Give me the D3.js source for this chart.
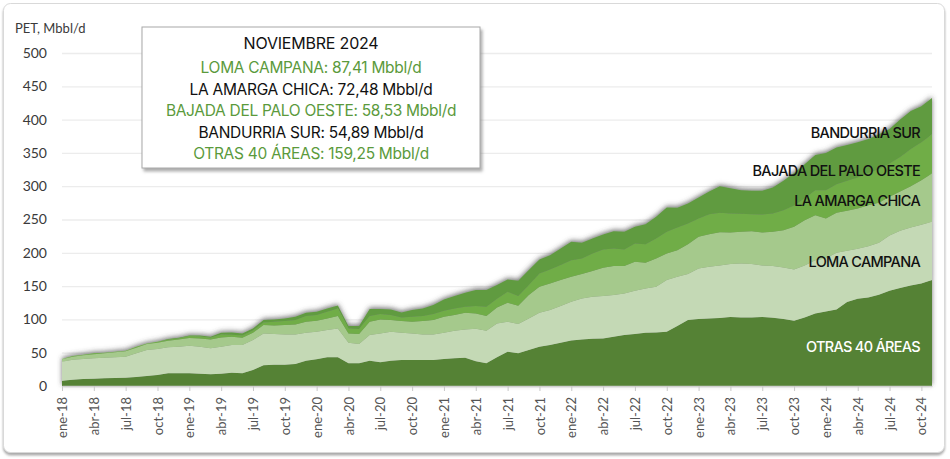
<!DOCTYPE html>
<html>
<head>
<meta charset="utf-8">
<script src="https://cdn.jsdelivr.net/npm/d3@7"></script>
<style>
body { margin: 0; background: #fff; }
svg { font-family: "Open Sans", sans-serif; }
</style>
</head>
<body>
<svg width="950" height="459"></svg>
<script>
// meses y años del eje x (ene-18 .. nov-24)
const meses = ["ene", "feb", "mar", "abr", "may", "jun", "jul", "ago", "sep", "oct", "nov", "dic"];
const anios = ["18", "19", "20", "21", "22", "23", "24"];
const yTicks = [0, 50, 100, 150, 200, 250, 300, 350, 400, 450, 500];

// produccion por area, Mbbl/d
const otras = [8, 9.5, 10.5, 11, 11.5, 12, 12.5, 13.5, 15, 16.5,
  19, 19, 19, 18.5, 17.5, 18.5, 20, 19, 24, 31,
  32, 32, 33, 38, 40, 43, 43, 34, 34, 38,
  35.5, 38, 39, 39, 39, 39, 40.5, 41.5, 42.5, 37,
  34, 43, 51.5, 49, 54, 59, 61.5, 65, 68.5, 70,
  71, 71.5, 74, 76.5, 78, 80, 80.5, 81.5, 90, 99,
  100.5, 101.5, 102, 103.5, 103, 103, 103.5, 102.5, 100.5, 98,
  103, 109, 112, 115, 126, 131, 133, 137, 143, 147,
  151, 154, 159.25];
const lomaCampana = [28.5, 30, 30, 30.5, 31, 31, 31.5, 35.5, 39, 39,
  39, 40, 41.5, 40.5, 39, 40.5, 41.5, 42.5, 45, 48,
  46, 45.5, 44.5, 42, 41.5, 41, 43.5, 31, 29, 38.5,
  43.5, 43.5, 41, 40, 38.5, 38.5, 39.5, 41.5, 42.5, 49,
  49, 51, 45, 44, 47.5, 51, 52.5, 55, 58, 61.5,
  63, 63.5, 62.5, 62.5, 65, 66.5, 68.5, 77.5, 74, 69,
  76, 77.5, 79, 79.5, 81, 80, 77.5, 77.5, 77.5, 77,
  78, 80, 80, 85, 77, 75, 77, 78, 83, 86,
  87, 88, 87.41];
const laAmargaChica = [3.5, 4.5, 5.5, 6, 6.5, 7.5, 8, 8.5, 9, 9.5,
  10, 11, 11.5, 12.5, 13.5, 14, 12.5, 11, 11, 12.5,
  13, 14, 15, 16.5, 16.5, 17.5, 18.5, 14, 15, 20,
  21, 17.5, 17.5, 17.5, 20, 21.5, 24, 23.5, 25, 23,
  22, 24, 28.5, 27.5, 35, 39, 40, 39, 37.5, 36.5,
  38.5, 42.5, 43.5, 41, 43.5, 38.5, 42.5, 40, 40, 45,
  47.5, 49, 50, 47.5, 47.5, 49.5, 49.5, 51.5, 56, 64,
  68, 67.5, 59.5, 60, 60, 60.5, 61.5, 60, 58, 59,
  62, 67, 72.48];
const bajadaPaloOeste = [0.5, 1, 1, 1.5, 1, 1, 1, 1.5, 1, 1.5,
  1.5, 1.5, 3, 3, 2.5, 4.5, 3, 3.5, 3.5, 4,
  5.5, 6, 6.5, 8.5, 8.5, 10, 11.5, 7.5, 7.5, 8.5,
  8, 7.5, 5.5, 7.5, 7.5, 9, 9, 10, 9, 11,
  14, 13, 16.5, 14.5, 15, 20, 21, 22.5, 25, 23.5,
  26.5, 27.5, 26.5, 25, 27.5, 28, 30, 32.5, 34, 31,
  27.5, 30, 29, 28.5, 27, 25.5, 27, 27.5, 30, 32,
  33, 37.5, 42.5, 43, 45, 46.5, 48.5, 51, 50, 52,
  56, 57, 58.53];
const bandurriaSur = [0, 0, 0, 0, 0, 0, 0, 0, 0, 0,
  1, 1, 1, 1.5, 1.5, 2.5, 3.5, 3, 3, 3.5,
  3.5, 4, 5, 5, 5, 5, 4.5, 3.5, 4.5, 10.5,
  7.5, 8.5, 7.5, 10, 11.5, 13.5, 17, 18.5, 21, 24,
  25, 20.5, 18.5, 23, 22.5, 21, 21.5, 25, 27.5, 23.5,
  22.5, 22.5, 26, 26.5, 25, 30, 32.5, 36.5, 29.5, 30,
  31.5, 34, 40, 38, 35.5, 35, 35.5, 39, 44, 49,
  51, 53, 56, 55, 54, 53, 51, 52, 52, 56,
  57, 54, 54.89];

const series = ["otras", "loma", "lac", "bpo", "bandurria"];
const nombres = {
  otras: "OTRAS 40 ÁREAS", loma: "LOMA CAMPANA", lac: "LA AMARGA CHICA",
  bpo: "BAJADA DEL PALO OESTE", bandurria: "BANDURRIA SUR"
};
const colores = {
  otras: "#548235", loma: "#c4d9b5", lac: "#a5c98c", bpo: "#70ad47", bandurria: "#619b40"
};

// etiquetas de mes tipo "ene-18"
const labels = [];
anios.forEach(a => meses.forEach(m => labels.push(`${m}-${a}`)));
labels.length = otras.length; // hasta nov-24

const data = labels.map((m, i) => ({
  month: m,
  otras: otras[i],
  loma: lomaCampana[i],
  lac: laAmargaChica[i],
  bpo: bajadaPaloOeste[i],
  bandurria: bandurriaSur[i]
}));

const svg = d3.select("svg");
const defs = svg.append("defs");

const cardShadow = defs.append("filter").attr("id", "cardShadow")
  .attr("x", "-5%").attr("y", "-5%").attr("width", "110%").attr("height", "115%");
cardShadow.append("feDropShadow").attr("dx", 0).attr("dy", 2.5).attr("stdDeviation", 1.2)
  .attr("flood-color", "#888").attr("flood-opacity", 0.7);

const topShadow = defs.append("filter").attr("id", "topShadow")
  .attr("x", "-5%").attr("y", "-20%").attr("width", "110%").attr("height", "140%");
topShadow.append("feDropShadow").attr("dx", 0).attr("dy", -1.5).attr("stdDeviation", 2.4)
  .attr("flood-color", "#444").attr("flood-opacity", 0.75);

const boxShadow = defs.append("filter").attr("id", "boxShadow")
  .attr("x", "-5%").attr("y", "-5%").attr("width", "115%").attr("height", "120%");
boxShadow.append("feDropShadow").attr("dx", 2).attr("dy", 3).attr("stdDeviation", 1.8)
  .attr("flood-color", "#777").attr("flood-opacity", 0.6);

// tarjeta de fondo
svg.append("rect")
  .attr("x", 3.5).attr("y", 3.5).attr("width", 941).attr("height", 449).attr("rx", 7)
  .attr("fill", "#fff").attr("stroke", "#d9d9d9")
  .attr("filter", "url(#cardShadow)");

const x = d3.scalePoint().domain(labels).range([62, 932]);
const y = d3.scaleLinear().domain([0, 500]).range([386, 53]);

// grilla
svg.append("g")
  .attr("transform", "translate(62,0)")
  .call(d3.axisLeft(y).tickValues(yTicks.slice(1)).tickSize(-870).tickFormat(""))
  .call(g => g.select(".domain").remove())
  .call(g => g.selectAll(".tick line").attr("stroke", "#ececec").attr("stroke-width", 1.3));

// eje y
svg.append("g")
  .attr("transform", "translate(62,0)")
  .call(d3.axisLeft(y).tickValues(yTicks).tickSize(0).tickPadding(15))
  .call(g => g.select(".domain").remove())
  .call(g => g.selectAll("text")
    .attr("font-size", 14).attr("fill", "#3a3a3a")
    .attr("font-family", "Lato, sans-serif"));

svg.append("text")
  .attr("x", 15).attr("y", 33)
  .attr("font-size", 13).attr("fill", "#3a3a3a")
  .attr("font-family", "Lato, sans-serif")
  .text("PET, Mbbl/d");

// areas apiladas
const stack = d3.stack().keys(series);
const stacked = stack(data);

const area = d3.area()
  .x(d => x(d.data.month))
  .y0(d => y(d[0]))
  .y1(d => y(d[1]));

svg.append("g")
  .attr("filter", "url(#topShadow)")
  .selectAll("path")
  .data(stacked)
  .enter().append("path")
  .attr("fill", d => colores[d.key])
  .attr("d", area);

// eje x
const xAxisG = svg.append("g")
  .attr("transform", "translate(0,386)")
  .call(d3.axisBottom(x).tickValues(labels.filter((d, i) => i % 3 === 0)).tickSize(5).tickSizeOuter(0));
xAxisG.select(".domain").attr("stroke", "#cfcfcf").attr("stroke-width", 1.5);
xAxisG.selectAll(".tick line").attr("stroke", "#c8c8c8");
xAxisG.selectAll("text")
  .attr("transform", "rotate(-90)")
  .attr("text-anchor", "end")
  .attr("x", -11).attr("y", 0).attr("dy", "0.35em")
  .attr("font-size", 13).attr("fill", "#555")
  .attr("font-family", "Lato, sans-serif");

// nombres de las areas
const etiquetas = [
  { key: "bandurria", y: 138, fill: "#111" },
  { key: "bpo", y: 176, fill: "#111" },
  { key: "lac", y: 206, fill: "#111" },
  { key: "loma", y: 267, fill: "#111" },
  { key: "otras", y: 352, fill: "#fff" }
];
svg.append("g").selectAll("text")
  .data(etiquetas)
  .enter().append("text")
  .attr("x", 920).attr("y", d => d.y)
  .attr("text-anchor", "end")
  .attr("font-family", "Inter, sans-serif")
  .attr("font-size", 14.5).attr("font-weight", 500)
  .attr("letter-spacing", -0.7)
  .attr("fill", d => d.fill)
  .text(d => nombres[d.key]);

// recuadro con el ultimo mes
const last = data[data.length - 1];
const tooltipOrden = ["loma", "lac", "bpo", "bandurria", "otras"];
const fmt = v => v.toFixed(2).replace(".", ",");
const tooltipLines = tooltipOrden.map((k, i) => ({
  text: `${nombres[k]}: ${fmt(last[k])} Mbbl/d`,
  fill: i % 2 === 0 ? "#5b9a3c" : "#111"
}));

const tip = svg.append("g");
tip.append("rect")
  .attr("x", 142).attr("y", 27).attr("width", 338).attr("height", 141)
  .attr("fill", "#fff").attr("stroke", "#a8a8a8")
  .attr("filter", "url(#boxShadow)");
tip.append("text")
  .attr("x", 311).attr("y", 49)
  .attr("text-anchor", "middle")
  .attr("font-family", "Inter, sans-serif")
  .attr("font-size", 16).attr("font-weight", 400).attr("fill", "#111")
  .attr("letter-spacing", -0.2)
  .text("NOVIEMBRE 2024");
tip.selectAll(".line")
  .data(tooltipLines)
  .enter().append("text")
  .attr("class", "line")
  .attr("x", 311).attr("y", (d, i) => 73 + i * 21.5)
  .attr("text-anchor", "middle")
  .attr("font-family", "Inter, sans-serif")
  .attr("font-size", 15.5).attr("fill", d => d.fill)
  .attr("letter-spacing", -0.3)
  .text(d => d.text);
</script>
</body>
</html>
